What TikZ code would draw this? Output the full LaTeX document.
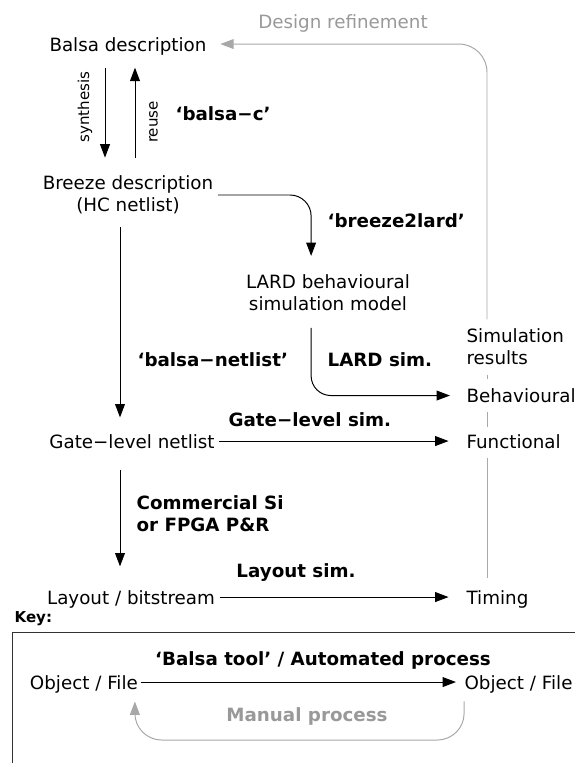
\documentclass[tikz,border=0pt]{standalone}
\usepackage{fontspec}
\setmainfont{DejaVu Sans}
\usetikzlibrary{arrows.meta}
\definecolor{refgray}{gray}{0.6}
\definecolor{linegray}{gray}{0.66}
\newcommand{\objfont}{\fontsize{13}{15.5}\selectfont}
\newcommand{\labfont}{\fontsize{10.7}{13}\selectfont}

\begin{document}
\begin{tikzpicture}[x=0.025cm, y=-0.025cm, line width=0.7pt,
    >={Triangle[length=9.5pt,width=7pt]},
    obj/.style={font=\objfont, inner sep=1.5pt, text height=9.9pt, text depth=0pt},
    objs/.style={font=\objfont, inner sep=1.5pt, align=center},
    tool/.style={font=\objfont\bfseries, inner sep=1.5pt, anchor=base west},
    note/.style={font=\labfont, inner sep=1.5pt, rotate=90},
    flow/.style={->, draw=black},
    refine/.style={draw=linegray}]
   \useasboundingbox (0,0) rectangle (574,763);

   % design objects
   \node[obj, anchor=base] (balsa) at (128,51) {Balsa description};
   \node[objs] (breeze) at (128,195) {Breeze description\\(HC netlist)};
   \node[objs] (lard) at (328,292.5) {LARD behavioural\\simulation model};
   \node[obj, anchor=base] (gate) at (132,448) {Gate−level netlist};
   \node[obj, anchor=base] (layout) at (131,604) {Layout / bitstream};

   % simulation results
   \node[objs, align=left, anchor=west] (simres) at (464,347) {Simulation\\results};
   \node[obj, anchor=base west] (behav) at (464,402.5) {Behavioural};
   \node[obj, anchor=base west] (func) at (464,448) {Functional};
   \node[obj, anchor=base west] (timing) at (464,604) {Timing};

   % tools
   \node[tool] (balsac) at (173,120) {‘balsa−c’};
   \node[tool] (b2lard) at (325,227) {‘breeze2lard’};
   \node[tool] (netlist) at (135,366) {‘balsa−netlist’};
   \node[tool] (lardsim) at (325,366) {LARD sim.};
   \node[tool] (gatesim) at (226,426.7) {Gate−level sim.};
   \node[tool, align=left, anchor=west] (pandr) at (134,514) {Commercial Si\\or FPGA P\&R};
   \node[tool, anchor=base] (laysim) at (296,577.7) {Layout sim.};

   \coordinate (synx) at (105,0);
   \coordinate (reux) at (135,0);
   \coordinate (downx) at (120,0);
   \coordinate (refx) at (487,0);

   \draw[flow, shorten <=10pt, shorten >=11.2pt] (balsa.south -| synx) -- (breeze.north -| synx);
   \draw[flow, shorten <=11.2pt, shorten >=10pt] (breeze.north -| reux) -- (balsa.south -| reux);
   \node[note] (synth) at (85,107) {synthesis};
   \node[note] (reuse) at (153.5,122) {reuse};

   \draw[flow, rounded corners=15pt, shorten <=1.5pt, shorten >=11.4pt]
      (breeze.east) -| ([xshift=-12pt]lard.north);
   \draw[flow, rounded corners=14pt, shorten <=10.5pt, shorten >=10pt]
      ([xshift=-12pt]lard.south) |- (behav.west);
   \draw[flow, shorten <=7.5pt, shorten >=10pt] (breeze.south -| downx) -- (gate.north -| downx);
   \draw[flow, shorten <=13.5pt, shorten >=15pt] (gate.south -| downx) -- (layout.north -| downx);
   \draw[flow, shorten <=1.5pt, shorten >=11pt] (gate.east) -- (func.west);
   \draw[flow, shorten <=1.5pt, shorten >=11pt] (layout.east) -- (timing.west);

   % design refinement loop
   \node[obj, refgray, anchor=base] (refinelab) at (343,28.5) {Design refinement};
   \draw[refine, ->, rounded corners=20pt, shorten <=5pt, shorten >=8pt]
      (simres.north -| refx) |- (balsa.east);
   \draw[refine, shorten <=5pt, shorten >=5pt] (simres.south -| refx) -- (behav.north -| refx);
   \draw[refine, shorten <=5pt, shorten >=3pt] (behav.south -| refx) -- (func.north -| refx);
   \draw[refine, shorten <=5pt, shorten >=7pt] (func.south -| refx) -- (timing.north -| refx);

   % key
   \node[font=\labfont\bfseries, anchor=base west, inner sep=1.5pt] (key) at (12,622) {Key:};
   \draw[draw=black!80] (12.7,800) |- (620,632.5);
   \node[obj, anchor=base east] (objin) at (140.5,689) {Object / File};
   \node[obj, anchor=base west] (objout) at (462,689) {Object / File};
   \node[tool, anchor=base] (auto) at (323,665) {‘Balsa tool’ / Automated process};
   \node[tool, refgray, anchor=base] (manual) at (307,721) {Manual process};
   \coordinate (manbot) at (300,740);
   \draw[flow, shorten >=4.3pt] (objin.east) -- (objout.west);
   \draw[refine, ->, rounded corners=19pt, shorten <=7pt, shorten >=7pt]
      ([xshift=1.5pt]objout.south west) |- (manbot) -| ([xshift=-4pt]objin.south east);
\end{tikzpicture}
\end{document}
